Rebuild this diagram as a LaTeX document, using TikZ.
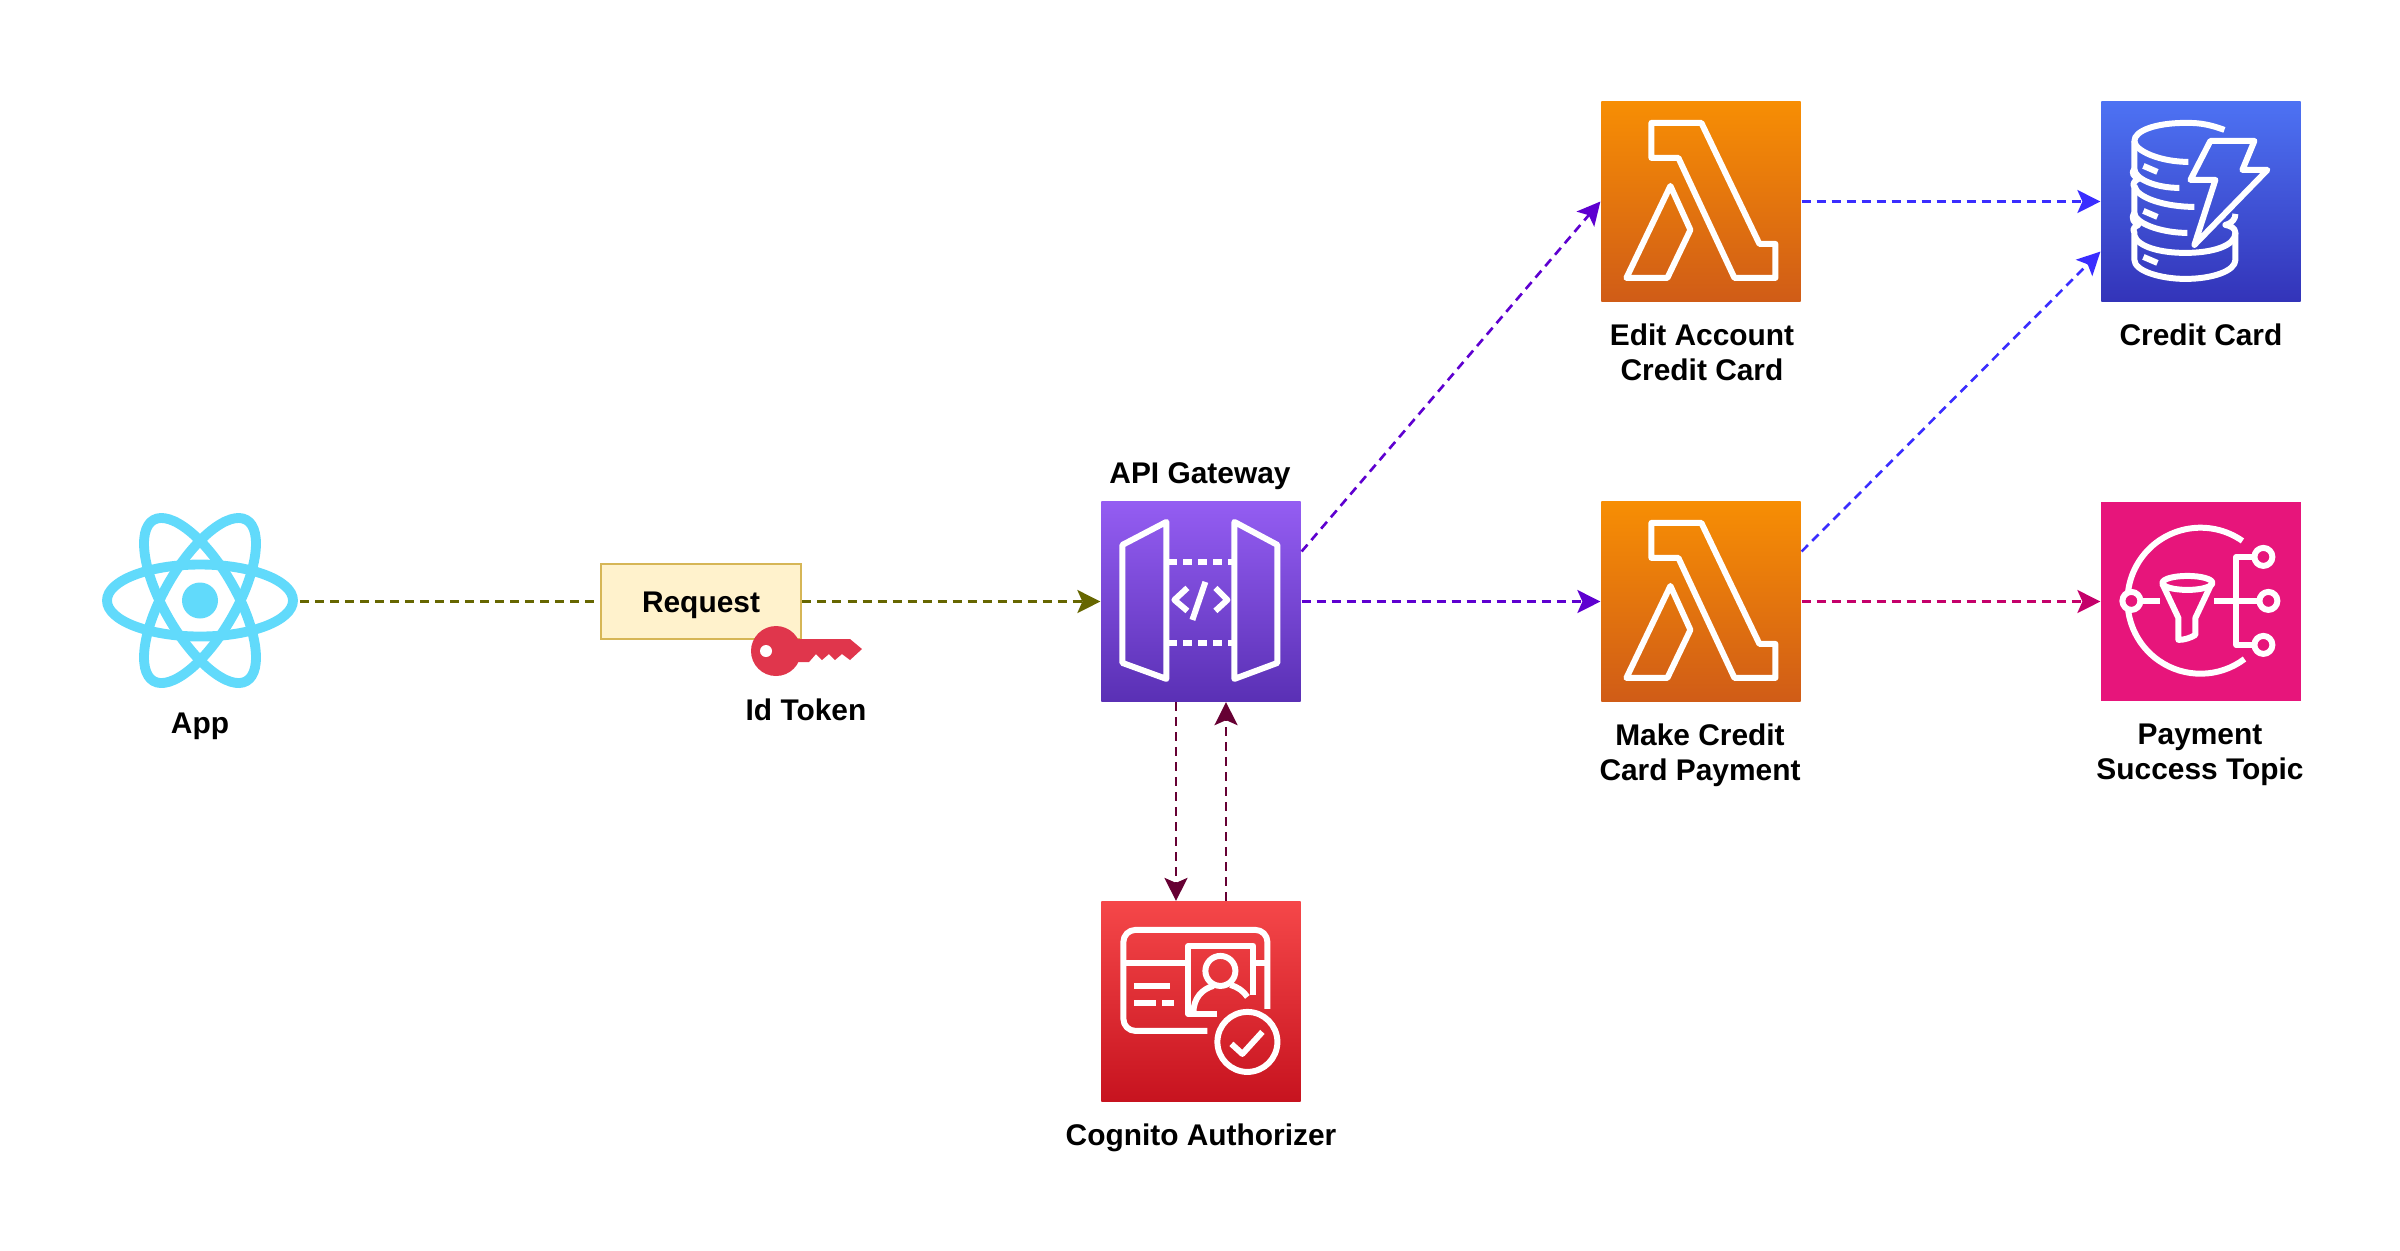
\documentclass[tikz,border=0pt]{standalone}
\usepackage{fontspec}
\setmainfont{Liberation Sans}
\usetikzlibrary{arrows.meta}
\definecolor{reactblue}{HTML}{61DAFB}
\definecolor{keyred}{HTML}{E0364C}
\definecolor{reqfill}{HTML}{FFF2CC}
\definecolor{reqline}{HTML}{D6B656}
\definecolor{olivelink}{HTML}{666600}
\definecolor{purplelink}{HTML}{5E00D0}
\definecolor{bluelink}{HTML}{3A2DFF}
\definecolor{pinklink}{HTML}{C4006A}
\definecolor{maroonlink}{HTML}{660033}
\definecolor{gatewaytop}{HTML}{945DF2}
\definecolor{gatewaybot}{HTML}{5A30B5}
\definecolor{lambdatop}{HTML}{F78E04}
\definecolor{lambdabot}{HTML}{D05C17}
\definecolor{dynamotop}{HTML}{4D72F3}
\definecolor{dynamobot}{HTML}{3334B9}
\definecolor{cognitotop}{HTML}{F54749}
\definecolor{cognitobot}{HTML}{C7131F}
\definecolor{topicpink}{HTML}{E7157B}
\tikzset{
  awsbox/.style={minimum size=1.99cm, inner sep=0pt},
  label text/.style={font=\fontsize{8.5}{10}\selectfont\bfseries, align=center, inner sep=0pt},
  iconline/.style={draw=white, line width=1.7pt, line join=round},
  link/.style={dash pattern=on 0.09cm off 0.06cm, line width=0.75pt},
  tip/.style={-{Stealth[length=0.23cm, width=0.23cm, inset=0.05cm]}},
}
\begin{document}
\begin{tikzpicture}[x=0.01cm, y=-0.01cm, line width=0.6pt]
  \useasboundingbox (0,0) rectangle (2400,1250);
  \node[minimum width=1.98cm, minimum height=1.74cm, inner sep=0pt] (app) at (200,601.5) {};
  \node[draw=reqline, fill=reqfill, line width=0.8pt, minimum width=2cm, minimum height=0.75cm, inner sep=0pt, text height=8pt, text depth=1.9pt, font=\fontsize{8.5}{10}\selectfont\bfseries] (request) at (701,601.5) {Request};
  \node[awsbox, top color=gatewaytop, bottom color=gatewaybot] (gateway) at (1201,601.5) {};
  \node[awsbox, top color=lambdatop, bottom color=lambdabot] (lambdaedit) at (1701,201.5) {};
  \node[awsbox, top color=lambdatop, bottom color=lambdabot] (lambdapay) at (1701,601.5) {};
  \node[awsbox, top color=dynamotop, bottom color=dynamobot] (dynamo) at (2201,201.5) {};
  \node[awsbox, fill=topicpink] (topic) at (2201,601.5) {};
  \node[awsbox, top color=cognitotop, bottom color=cognitobot] (cognito) at (1201,1001.5) {};

  \draw[reactblue, line width=2.8pt] (200,600.5) ellipse[x radius=93, y radius=36];
  \draw[reactblue, line width=2.8pt, rotate around={60:(200,600.5)}] (200,600.5) ellipse[x radius=93, y radius=36];
  \draw[reactblue, line width=2.8pt, rotate around={-60:(200,600.5)}] (200,600.5) ellipse[x radius=93, y radius=36];
  \fill[reactblue] (200,600.5) circle[radius=18];

  \fill[keyred] (776,651) circle[radius=25];
  \fill[keyred] (790,639) -- (850,639) -- (862,649) -- (850,660) -- (842,654) -- (835,660) -- (829,654) -- (822,660) -- (816,654) -- (809,662) -- (790,662) -- cycle;
  \fill[white] (766,651) circle[radius=6];

  \begin{scope}[shift={(gateway.north west)}]
    \draw[iconline] (66,21) -- (22,44) -- (22,162) -- (66,178) -- cycle;
    \draw[iconline] (134,21) -- (177,44) -- (177,162) -- (134,178) -- cycle;
    \draw[iconline, dash pattern=on 0.09cm off 0.06cm] (68,61) -- (132,61);
    \draw[iconline, dash pattern=on 0.09cm off 0.06cm] (68,142) -- (132,142);
    \draw[iconline] (87,87) -- (74,99) -- (87,110);
    \draw[iconline] (115,87) -- (127,99) -- (115,110);
    \draw[iconline] (105,81) -- (92,119);
  \end{scope}

  \begin{scope}[shift={(lambdaedit.north west)}]
    \draw[iconline] (51,22) -- (101,22) -- (159,143) -- (175,143) -- (175,177) -- (134,177) -- (78,57) -- (51,57) -- cycle;
    \draw[iconline] (70,85) -- (90,129) -- (67,177) -- (26,177) -- cycle;
  \end{scope}

  \begin{scope}[shift={(lambdapay.north west)}]
    \draw[iconline] (51,22) -- (101,22) -- (159,143) -- (175,143) -- (175,177) -- (134,177) -- (78,57) -- (51,57) -- cycle;
    \draw[iconline] (70,85) -- (90,129) -- (67,177) -- (26,177) -- cycle;
  \end{scope}

  \begin{scope}[shift={(dynamo.north west)}]
    \draw[iconline] (124,29) .. controls (105,22) and (95,22) .. (85,22) .. controls (55,22) and (34,30) .. (34,40) .. controls (34,50) and (60,61) .. (88,61);
    \draw[iconline] (34,40) -- (34,68) .. controls (34,78) and (55,87) .. (79,87);
    \draw[iconline] (34,68) .. controls (30,72) and (34,76) .. (38,78);
    \draw[iconline] (38,78) .. controls (30,82) and (34,86) .. (34,86) -- (34,112) .. controls (34,122) and (60,132) .. (87,132);
    \draw[iconline] (34,85) .. controls (36,97) and (65,106) .. (94,106);
    \draw[iconline] (34,112) .. controls (30,118) and (34,122) .. (38,124) .. controls (30,128) and (34,130) .. (34,132) -- (34,159) .. controls (34,170) and (60,178) .. (85,178) .. controls (112,178) and (135,170) .. (135,159) -- (135,132);
    \draw[iconline] (34,135) .. controls (38,146) and (60,152) .. (85,152) .. controls (112,152) and (135,145) .. (135,132) .. controls (135,127) and (130,125) .. (125,124) .. controls (132,122) and (135,118) .. (135,113);
    \draw[iconline] (43,65) -- (57,71);
    \draw[iconline] (43,110) -- (57,116);
    \draw[iconline] (43,156) -- (57,162);
    \draw[iconline] (110,40) -- (154,40) -- (142,69) -- (167,69) -- (94,144) -- (115,79) -- (90,79) -- cycle;
  \end{scope}

  \begin{scope}[shift={(topic.north west)}]
    \draw[iconline] (142,40) arc[start angle=-55, end angle=-307, radius=73];
    \draw[iconline, fill=topicpink] (31,100) circle[radius=9];
    \draw[iconline] (40,100) -- (60,100);
    \draw[iconline] (87,82) ellipse[x radius=25, y radius=7];
    \draw[iconline] (62,83) -- (78,117) -- (78,139) .. controls (84,139) and (90,137) .. (95,134) -- (95,117) -- (111,83);
    \draw[iconline] (114,100) -- (159,100);
    \draw[iconline] (154,56) -- (136,56) -- (136,144) -- (154,144);
    \draw[iconline] (163,56) circle[radius=9];
    \draw[iconline] (168,100) circle[radius=9];
    \draw[iconline] (163,144) circle[radius=9];
  \end{scope}

  \begin{scope}[shift={(cognito.north west)}]
    \draw[iconline, rounded corners=0.12cm] (107,130) -- (23,130) -- (23,29) -- (167,29) -- (167,108);
    \draw[iconline] (23,62) -- (88,62);
    \draw[iconline] (153,62) -- (167,62);
    \draw[iconline] (117,113) -- (88,113) -- (88,45) -- (153,45) -- (153,94);
    \draw[iconline] (120,70) circle[radius=15];
    \draw[iconline] (93,112) .. controls (93,97) and (102,88) .. (113,85);
    \draw[iconline] (130,84) .. controls (137,86) and (143,90) .. (147,96);
    \draw[iconline] (34,85) -- (70,85);
    \draw[iconline] (34,102) -- (56,102);
    \draw[iconline] (62,102) -- (74,102);
    \draw[iconline] (147,141) circle[radius=30];
    \draw[iconline] (131,143) -- (142,153) -- (162,131);
  \end{scope}

  \draw[link, olivelink] (app) -- (request);
  \draw[link, tip, olivelink] (request) -- (gateway);
  \draw[link, tip, purplelink] ([yshift=0.5cm]gateway.east) -- (lambdaedit.west);
  \draw[link, tip, purplelink] (gateway) -- (lambdapay);
  \draw[link, tip, bluelink] (lambdaedit) -- (dynamo);
  \draw[link, tip, bluelink] ([yshift=0.5cm]lambdapay.east) -- ([yshift=-0.5cm]dynamo.west);
  \draw[link, tip, pinklink] (lambdapay) -- (topic);
  \draw[link, tip, maroonlink] ([xshift=-0.25cm]gateway.south) -- ([xshift=-0.25cm]cognito.north);
  \draw[link, tip, maroonlink] ([xshift=0.25cm]cognito.north) -- ([xshift=0.25cm]gateway.south);

  \node[label text] (applabel) at (200,726) {App};
  \node[label text] (tokenlabel) at (806,710) {Id Token};
  \node[label text] (gatewaylabel) at (1200,476) {API Gateway};
  \node[label text] (editlabel) at (1702,352) {Edit Account\\Credit Card};
  \node[label text] (cardlabel) at (2201,335) {Credit Card};
  \node[label text] (paylabel) at (1700,755) {Make Credit\\Card Payment};
  \node[label text] (topiclabel) at (2200,755) {Payment\\Success Topic};
  \node[label text] (cognitolabel) at (1201,1138) {Cognito Authorizer};
\end{tikzpicture}
\end{document}
